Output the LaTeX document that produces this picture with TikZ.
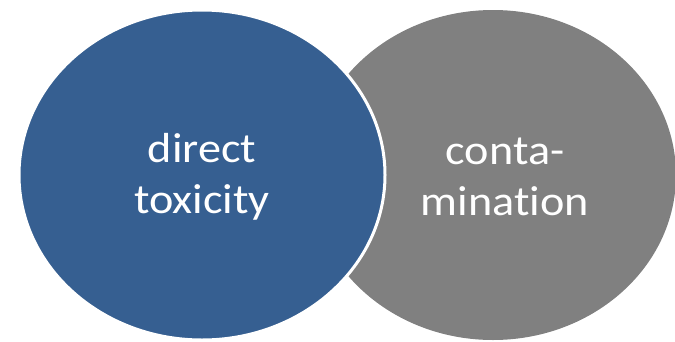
\documentclass[tikz,border=0pt]{standalone}
\usepackage{fontspec}
\setmainfont{Carlito}[Ligatures=NoCommon]
\usepackage{tikz}
\definecolor{qqbbff}{rgb}{0.21176470588235294,0.37254901960784315,0.5686274509803921}
\definecolor{ggqqgg}{rgb}{0.5019607843137255,0.5019607843137255,0.5019607843137255}
\tikzset{circtext/.style={text=white,align=center,font=\fontsize{42}{51}\selectfont,xscale=1.1,transform shape}}

\begin{document}
\begin{tikzpicture}[line cap=round,line join=round,x=1pt,y=-1pt]
\useasboundingbox (0,0) rectangle (675,341);
\clip (0,0) rectangle (675,341);
% grey one first, the blue one lies over it
\fill[color=ggqqgg] (493,175) ellipse (183 and 165);
\draw[line width=3pt,color=white,fill=qqbbff] (202,175) ellipse (183 and 165);
\node[circtext] (tox) at (202,177) {direct\\toxicity};
\node[circtext] (cont) at (505,177) {conta-\\mination};
\end{tikzpicture}
\end{document}
